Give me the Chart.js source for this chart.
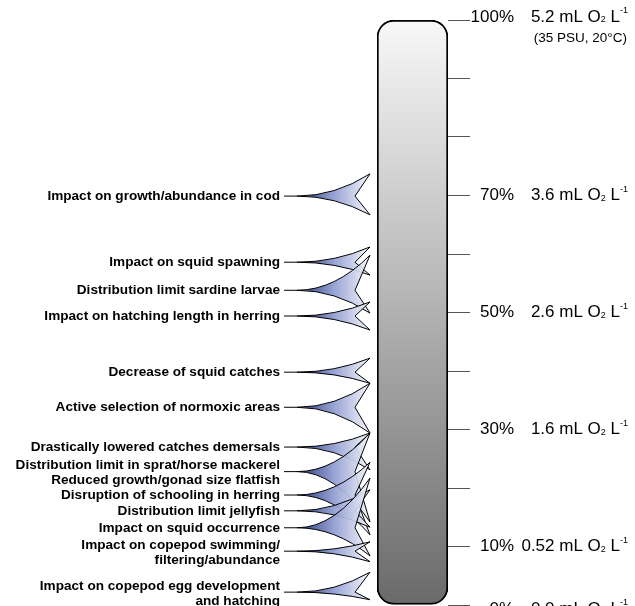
<!DOCTYPE html>
<html>
<head>
<meta charset="utf-8">
<script src="https://cdn.jsdelivr.net/npm/chart.js@4"></script>
<style>
  body { margin: 0; background: #fff; }
  canvas { display: block; }
</style>
</head>
<body>
<canvas id="oxyChart" width="635" height="606"></canvas>
<script>
// impact labels, top to bottom
const impacts = [
    ["Impact on growth/abundance in cod"],
    ["Impact on squid spawning"],
    ["Distribution limit sardine larvae"],
    ["Impact on hatching length in herring"],
    ["Decrease of squid catches"],
    ["Active selection of normoxic areas"],
    ["Drastically lowered catches demersals"],
    ["Distribution limit in sprat/horse mackerel", "Reduced growth/gonad size flatfish"],
    ["Disruption of schooling in herring"],
    ["Distribution limit jellyfish"],
    ["Impact on squid occurrence"],
    ["Impact on copepod swimming/", "filtering/abundance"],
    ["Impact on copepod egg development", "and hatching"],
];
// oxygen saturation (%) where each horn starts / ends, and where its label points
const rangeTop = [73.7, 61.2, 59.8, 51.8, 42.2, 37.9, 29.4, 29.4, 24.4, 19.7, 21.7, 10.8, 5.6];
const rangeBottom = [66.7, 56.4, 49.9, 47.0, 37.9, 29.4, 23.1, 14.2, 12.0, 13.3, 8.4, 7.4, 0.9];
const pointsAt = [69.9, 58.6, 53.8, 49.4, 39.8, 33.8, 27.0, 22.8, 18.8, 16.1, 13.2, 9.2, 2.2];

// labelled saturation levels and their oxygen concentration
const satLevels = [100, 70, 50, 30, 10, 0];
const oxygenMl = ["5.2", "3.6", "2.6", "1.6", "0.52", "0.0"];

const FONT = "Arial, 'Liberation Sans', sans-serif";

// horns + labels on the left of the tube
const hornPlugin = {
    id: "horns",
    afterDatasetsDraw(chart) {
        const { ctx, chartArea } = chart;
        const y = chart.scales.y;
        const left = chartArea.left;
        const tipX = left - 7, notchX = left - 22, apexX = left - 80, textX = left - 97;
        ctx.save();
        impacts.forEach((lines, i) => {
            const yA = y.getPixelForValue(pointsAt[i]);
            const yT = y.getPixelForValue(rangeTop[i]);
            const yB = y.getPixelForValue(rangeBottom[i]);
            const ctrlX = left - 42;

            const g = ctx.createLinearGradient(apexX, 0, tipX, 0);
            g.addColorStop(0, "#18256e");
            g.addColorStop(0.5, "#8e9bd0");
            g.addColorStop(1, "#f6f7fc");

            ctx.beginPath();
            ctx.moveTo(apexX, yA);
            ctx.quadraticCurveTo(ctrlX, yA, tipX, yT);
            ctx.lineTo(notchX, yA);
            ctx.lineTo(tipX, yB);
            ctx.quadraticCurveTo(ctrlX, yA, apexX, yA);
            ctx.closePath();
            ctx.globalAlpha = 0.92;
            ctx.fillStyle = g;
            ctx.fill();
            ctx.globalAlpha = 1;
            ctx.strokeStyle = "#000";
            ctx.lineWidth = 1;
            ctx.stroke();

            ctx.beginPath();
            ctx.moveTo(textX + 4, yA);
            ctx.lineTo(apexX, yA);
            ctx.stroke();

            ctx.fillStyle = "#000";
            ctx.font = "bold 13.6px " + FONT;
            ctx.textAlign = "right";
            ctx.textBaseline = "middle";
            const off = lines.length > 1 ? -(lines.length - 1) * 7.5 + 1.5 : 0;
            lines.forEach((t, k) => ctx.fillText(t, textX, yA + off + k * 15));
        });
        ctx.restore();
    },
    afterDraw(chart) {
        const { ctx, chartArea } = chart;
        const y = chart.scales.y;
        const pctX = chartArea.right + 66, valX = chartArea.right + 180;
        ctx.save();
        ctx.fillStyle = "#000";
        ctx.textBaseline = "middle";
        satLevels.forEach((lv, i) => {
            let yy = y.getPixelForValue(lv);
            if (lv === 100) yy -= 3;
            if (lv === 0) yy += 4;
            ctx.font = "17px " + FONT;
            ctx.textAlign = "right";
            ctx.fillText(lv + "%", pctX, yy);
            // value, drawn right to left: "x mL O" "2" " L" "-1"
            const parts = [
                [oxygenMl[i] + " mL O", 17, 0],
                ["2", 9, 3],
                [" L", 17, 0],
                ["-1", 9, -6],
            ];
            let x = valX;
            for (let k = parts.length - 1; k >= 0; k--) {
                const [t, s, dy] = parts[k];
                ctx.font = s + "px " + FONT;
                ctx.fillText(t, x, yy + dy);
                x -= ctx.measureText(t).width;
            }
            if (lv === 100) {
                ctx.font = "13.5px " + FONT;
                ctx.fillText("(35 PSU, 20\u00B0C)", valX - 1, yy + 21);
            }
        });
        ctx.restore();
    },
};

const ctx = document.getElementById("oxyChart").getContext("2d");
new Chart(ctx, {
    type: "bar",
    data: {
        labels: ["O2"],
        datasets: [
            {
                data: [[0, 100]],
                backgroundColor: (c) => {
                    const a = c.chart.chartArea;
                    if (!a) return "#aaa";
                    const g = c.chart.ctx.createLinearGradient(0, a.top, 0, a.bottom);
                    g.addColorStop(0, "#f8f8f8");
                    g.addColorStop(1, "#6a6a6a");
                    return g;
                },
                borderColor: "#000",
                borderWidth: 2,
                borderSkipped: false,
                borderRadius: { topLeft: 17, topRight: 17, bottomLeft: 17, bottomRight: 17 },
                barPercentage: 1,
                categoryPercentage: 1,
            },
        ],
    },
    options: {
        responsive: false,
        animation: false,
        layout: { padding: { left: 377, right: 165, top: 20, bottom: 1 } },
        plugins: { legend: { display: false }, tooltip: { enabled: false } },
        scales: {
            x: { display: false },
            y: {
                position: "right",
                min: 0,
                max: 100,
                ticks: { stepSize: 10, display: false },
                grid: { drawOnChartArea: false, drawTicks: true, tickLength: 22, color: "#555", lineWidth: 1 },
                border: { display: false },
                afterFit(scale) { scale.width = 22; },
            },
        },
    },
    plugins: [hornPlugin],
});
</script>
</body>
</html>
